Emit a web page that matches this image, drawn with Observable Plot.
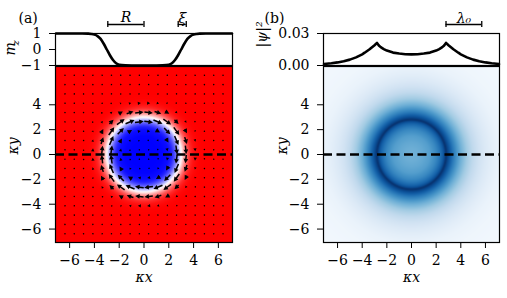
<!DOCTYPE html>
<html>
<head>
<meta charset="utf-8">
<script src="https://cdn.jsdelivr.net/npm/d3@7"></script>
<script src="https://cdn.jsdelivr.net/npm/@observablehq/plot@0.6"></script>
<style>
  body { margin: 0; background: #fff; }
  #fig { position: relative; width: 507px; height: 298px; overflow: hidden; }
  #fig > div { position: absolute; }
  #fig svg {
    overflow: visible;
    background: transparent !important;
    font-size: 14px !important;
    color: black;
  }
  #fig svg, #fig svg g, #fig svg text {
    font-family: "DejaVu Serif", serif !important;
  }
</style>
</head>
<body>
<div id="fig"></div>
<script>
// Axis extents and ticks (units of 1/kappa)
const xDomain = [-7.14, 7.14];
const yDomain = [-7.08, 7.08];
const xTicks = [-6, -4, -2, 0, 2, 4, 6];
const yTicks = [-6, -4, -2, 0, 2, 4];
const mzTicks = [-1, 0, 1];
const psiTicks = [0, 0.03];

// Radial profile of the skyrmion, m_z(r)
const mzRadius = [0, 1, 1.5, 2, 2.25, 2.5, 2.75, 3, 3.25, 3.5, 3.75, 4, 4.25, 4.5, 5, 7.1, 10.5];
const mzValue  = [-1, -1, -0.99, -0.95, -0.86, -0.66, -0.36, 0, 0.36, 0.66, 0.84, 0.93, 0.97, 0.99, 1, 1, 1];

// Radial profile of the bound-state density |psi|^2(r)
const psiRadius = [0, 0.5, 1, 1.5, 2, 2.25, 2.5, 2.65, 2.8, 3, 3.2, 3.4, 3.6, 3.8, 4, 4.5, 5, 5.5, 6, 6.5, 7.1, 8, 10.5];
const psiValue  = [0.0104, 0.0106, 0.0112, 0.0121, 0.0140, 0.0154, 0.0172, 0.0188, 0.0212, 0.0190, 0.0171, 0.0152, 0.0136, 0.0120, 0.0105, 0.0076, 0.0055, 0.0040, 0.0029, 0.0021, 0.0014, 0.0009, 0.0004];

// Length-scale annotations
const skyrmionRadius = 2.92;               // R
const wallStart = 2.76, wallWidth = 0.65;  // xi
const peakPos = 2.8, lambda0 = 2.9;        // lambda_0

// Quiver sampling grid
const quiverStart = -6.375, quiverStep = 0.75, quiverCount = 18;

// linear lookup in a radial table
function radial(rs, vs) {
  return (r) => {
    if (r <= rs[0]) return vs[0];
    for (let i = 1; i < rs.length; ++i) {
      if (r <= rs[i]) {
        const t = (r - rs[i - 1]) / (rs[i] - rs[i - 1]);
        return vs[i - 1] + t * (vs[i] - vs[i - 1]);
      }
    }
    return vs[vs.length - 1];
  };
}
const mzAt = radial(mzRadius, mzValue);
const psiAt = radial(psiRadius, psiValue);

// cuts along y = 0
function cut(rs, vs) {
  const pts = [];
  rs.forEach((r, i) => { if (r <= xDomain[1]) pts.push({x: -r, v: vs[i]}); });
  pts.reverse();
  rs.forEach((r, i) => { if (r > 0 && r <= xDomain[1]) pts.push({x: r, v: vs[i]}); });
  return pts;
}
const mzCut = cut(mzRadius, mzValue);
const psiCut = cut(psiRadius, psiValue);

// in-plane magnetisation on the quiver grid (Bloch circulation)
const grid = d3.range(quiverCount).map((i) => quiverStart + i * quiverStep);
const quiver = [];
for (const gx of grid) for (const gy of grid) {
  const mz = mzAt(Math.hypot(gx, gy));
  quiver.push({
    x: gx, y: gy,
    m: Math.sqrt(Math.max(0, 1 - mz * mz)),
    a: Math.atan2(gy, -gx) * 180 / Math.PI
  });
}

// filled quiver arrow; tiny vectors become dots
const quiverArrow = {
  draw(context, l) {
    if (l < 1.2) {
      context.moveTo(0.75, 0);
      context.arc(0, 0, 0.75, 0, 2 * Math.PI);
      return;
    }
    const sw = 0.75, hw = 2.4, hl = 4.5;
    if (l <= hl) {
      const w = Math.max(1.2, hw * l / hl);
      context.moveTo(-w, 0);
      context.lineTo(0, -l);
      context.lineTo(w, 0);
      context.closePath();
      return;
    }
    context.moveTo(-sw, 0);
    context.lineTo(-sw, -(l - hl));
    context.lineTo(-hw, -(l - hl));
    context.lineTo(0, -l);
    context.lineTo(hw, -(l - hl));
    context.lineTo(sw, -(l - hl));
    context.lineTo(sw, 0);
    context.closePath();
  }
};

const serif = "'DejaVu Serif', serif";
const font = {
  fontFamily: serif,
  fontSize: "14px",
  background: "transparent",
  color: "black",
  overflow: "visible"
};
const fig = document.getElementById("fig");
function place(svg, left, top) {
  const d = document.createElement("div");
  d.style.left = left + "px";
  d.style.top = top + "px";
  d.append(svg);
  fig.append(d);
}

function scaleBar(x1, x2, yTop) {
  return [
    Plot.ruleY([yTop], {x1, x2, dy: -9, strokeWidth: 1.3}),
    Plot.ruleX([x1, x2], {y1: yTop, y2: yTop, insetTop: -3, insetBottom: -3, dy: -9, strokeWidth: 1.3})
  ];
}

// (a) m_z along y = 0
place(Plot.plot({
  width: 260, height: 66,
  marginLeft: 55, marginRight: 28, marginTop: 33, marginBottom: 1,
  style: font,
  x: {domain: xDomain, axis: null},
  y: {domain: [-1, 1], axis: null},
  marks: [
    Plot.line(mzCut, {x: "x", y: "v", strokeWidth: 2.6, curve: "monotone-x"}),
    Plot.frame({strokeWidth: 1.2}),
    Plot.axisY({ticks: mzTicks, tickSize: 6, tickPadding: 8, tickFormat: d3.format("d"), label: null, fontFamily: serif}),
    ...scaleBar(-skyrmionRadius, 0, 1),
    Plot.text(["R"], {x: -skyrmionRadius / 2, frameAnchor: "top", dy: -21, fontStyle: "italic", fontFamily: serif}),
    ...scaleBar(wallStart, wallStart + wallWidth, 1),
    Plot.text(["ξ"], {x: wallStart + wallWidth / 2, frameAnchor: "top", dy: -20, fontStyle: "italic", fontFamily: serif}),
    Plot.text(["m"], {frameAnchor: "left", dx: -45, dy: 6, rotate: -90, fontStyle: "italic", fontFamily: serif}),
    Plot.text(["z"], {frameAnchor: "left", dx: -40, dy: -4, rotate: -90, fontStyle: "italic", fontSize: 10, fontFamily: serif}),
    Plot.text(["(a)"], {frameAnchor: "top-left", dx: -37, dy: -20, fontFamily: serif})
  ]
}), 0, 0);

// (a) m_z map with in-plane quiver
place(Plot.plot({
  width: 260, height: 233,
  marginLeft: 55, marginRight: 28, marginTop: 1, marginBottom: 56,
  style: font,
  x: {domain: xDomain, axis: null},
  y: {domain: yDomain, axis: null},
  color: {type: "linear", domain: [-1, 0, 1], range: ["#0000ff", "#ffffff", "#ff0000"], interpolate: "rgb"},
  length: {domain: [0, 1], range: [0, 10]},
  marks: [
    Plot.raster({fill: (x, y) => mzAt(Math.hypot(x, y)), x1: xDomain[0], x2: xDomain[1], y1: yDomain[0], y2: yDomain[1], pixelSize: 1}),
    Plot.vector(quiver, {x: "x", y: "y", length: "m", rotate: "a", anchor: "middle", shape: quiverArrow, fill: "black", stroke: "none"}),
    Plot.ruleY([0], {strokeWidth: 2.6, strokeDasharray: "9,4.5"}),
    Plot.frame({strokeWidth: 1.2}),
    Plot.axisX({ticks: xTicks, tickSize: 6, tickPadding: 7, label: null, fontFamily: serif}),
    Plot.axisY({ticks: yTicks, tickSize: 6, tickPadding: 8, label: null, fontFamily: serif}),
    Plot.text(["κx"], {frameAnchor: "bottom", dy: 39, fontStyle: "italic", fontFamily: serif}),
    Plot.text(["κy"], {frameAnchor: "left", dx: -42, rotate: -90, fontStyle: "italic", fontFamily: serif})
  ]
}), 0, 65);

// (b) |psi|^2 along y = 0
place(Plot.plot({
  width: 257, height: 66,
  marginLeft: 73, marginRight: 8, marginTop: 33, marginBottom: 1,
  style: font,
  x: {domain: xDomain, axis: null},
  y: {domain: [0, 0.03], axis: null},
  marks: [
    Plot.line(psiCut, {x: "x", y: "v", strokeWidth: 2.6}),
    Plot.frame({strokeWidth: 1.2}),
    Plot.axisY({ticks: psiTicks, tickSize: 6, tickPadding: 8, tickFormat: d3.format(".2f"), label: null, fontFamily: serif}),
    ...scaleBar(peakPos, peakPos + lambda0, 0.03),
    Plot.text(["λ₀"], {x: peakPos + lambda0 / 2, frameAnchor: "top", dy: -20, fontStyle: "italic", fontFamily: serif}),
    Plot.text(["|ψ|²"], {frameAnchor: "left", dx: -61, dy: -2, rotate: -90, fontStyle: "italic", fontFamily: serif}),
    Plot.text(["(b)"], {frameAnchor: "top-left", dx: -59, dy: -20, fontFamily: serif})
  ]
}), 250, 0);

// (b) |psi|^2 map
place(Plot.plot({
  width: 257, height: 233,
  marginLeft: 73, marginRight: 8, marginTop: 1, marginBottom: 56,
  style: font,
  x: {domain: xDomain, axis: null},
  y: {domain: yDomain, axis: null},
  color: {scheme: "blues", domain: [0, 0.0212]},
  marks: [
    Plot.raster({fill: (x, y) => psiAt(Math.hypot(x, y)), x1: xDomain[0], x2: xDomain[1], y1: yDomain[0], y2: yDomain[1], pixelSize: 1}),
    Plot.ruleY([0], {strokeWidth: 2.6, strokeDasharray: "9,4.5"}),
    Plot.frame({strokeWidth: 1.2}),
    Plot.axisX({ticks: xTicks, tickSize: 6, tickPadding: 7, label: null, fontFamily: serif}),
    Plot.axisY({ticks: yTicks, tickSize: 6, tickPadding: 8, label: null, fontFamily: serif}),
    Plot.text(["κx"], {frameAnchor: "bottom", dy: 39, fontStyle: "italic", fontFamily: serif}),
    Plot.text(["κy"], {frameAnchor: "left", dx: -41, rotate: -90, fontStyle: "italic", fontFamily: serif})
  ]
}), 250, 65);
</script>
</body>
</html>
